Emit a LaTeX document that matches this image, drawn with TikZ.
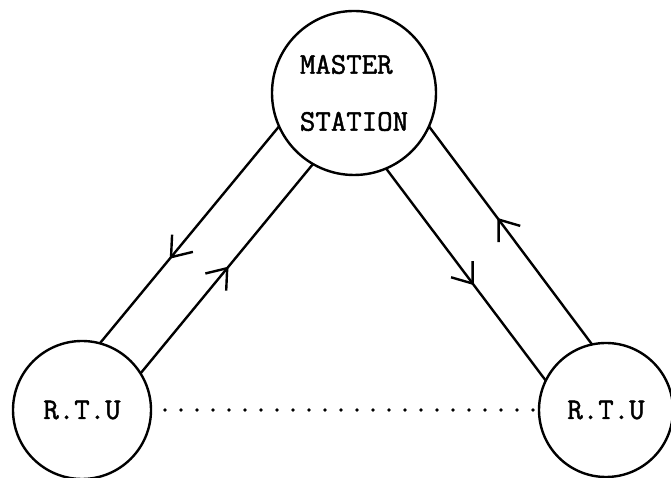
\documentclass[tikz,border=0pt]{standalone}
\usepackage{fontspec}
\usetikzlibrary{arrows.meta,decorations.markings}
\newfontfamily\typewriter[FakeBold=1.5]{Latin Modern Mono}

\tikzset{
  station/.style={circle, draw, line width=2.4pt, inner sep=0pt, outer sep=0pt,
                  font=\typewriter\fontsize{30}{57}\selectfont},
  link/.style={line width=2.4pt},
  midarrow/.style={link, postaction={decorate},
    decoration={markings, mark=at position #1 with
      {\arrow{Straight Barb[length=18pt,width=27pt,line width=2.4pt]}}}},
  dotline/.style={line width=3.8pt, line cap=round, dash pattern=on 0pt off 16pt}
}

\begin{document}
\begin{tikzpicture}[x=1pt,y=1pt]
  \useasboundingbox (0,0) rectangle (671,478);

  % stations
  \node[station, minimum size=164pt, align=left] (M) at (354,385) {MASTER\\STATION};
  \node[station, minimum size=138pt] (L) at (82,68) {R.T.U};
  \node[station, minimum size=134pt] (R) at (606,68) {R.T.U};

  % master <-> left RTU
  \draw[midarrow=0.61] (M.204) -- (L.75);
  \draw[midarrow=0.51] (L.32) -- (M.240);

  % master <-> right RTU
  \draw[midarrow=0.58] (R.102) -- (M.336);
  \draw[midarrow=0.55] (M.293) -- (R.154);

  % RTU to RTU
  \draw[dotline, shorten <=14pt, shorten >=5pt] (L.east) -- (R.west);
\end{tikzpicture}
\end{document}
